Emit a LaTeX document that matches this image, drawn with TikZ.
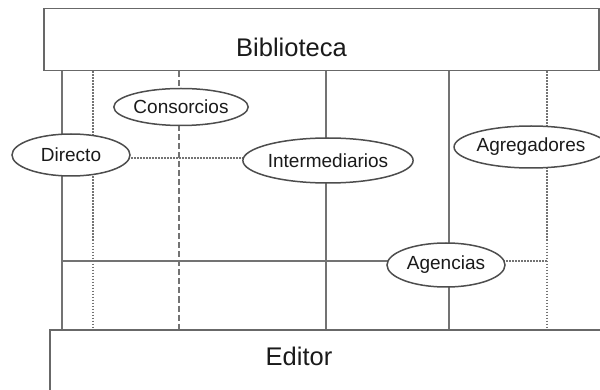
\documentclass[tikz,border=0pt]{standalone}
\usepackage{fontspec}
\setmainfont{Liberation Sans}
\usetikzlibrary{shapes.geometric,backgrounds}
\definecolor{linegray}{HTML}{737373}
\definecolor{edgegray}{HTML}{4d4d4d}
\definecolor{txt}{HTML}{1a1a1a}
\begin{document}
\begin{tikzpicture}[x=1pt,y=-1pt,
  bigbox/.style={draw=edgegray!85!white,line width=1.5pt,fill=white,inner sep=0pt,anchor=north west},
  bigtext/.style={text=txt,font=\fontsize{25.5}{30}\selectfont,inner sep=0pt},
  oval/.style={ellipse,draw=edgegray,line width=1.5pt,fill=white,inner sep=0pt,text=txt,font=\fontsize{19}{22}\selectfont},
  solidln/.style={draw=linegray,line width=1.5pt},
  dotln/.style={draw=linegray,line width=1.5pt,dash pattern=on 1.5pt off 1.5pt},
  dashln/.style={draw=linegray,line width=1.5pt,dash pattern=on 6pt off 3pt}]
\useasboundingbox (0,0) rectangle (600,390);
\clip (0,0) rectangle (600,390);
% boxes
\node[bigbox,minimum width=555pt,minimum height=62pt] (bib) at (43,8) {};
\node[bigtext] (bibt) at (291.5,47) {Biblioteca};
\node[bigbox,minimum width=560pt,minimum height=70pt] (edi) at (49,329) {};
\node[bigtext] (edit) at (299,356) {Editor};
% ellipses
\node[oval,minimum width=118pt,minimum height=42pt] (dir) at (71,155) {Directo};
\node[oval,minimum width=131pt,minimum height=37pt] (con) at (181,107) {Consorcios};
\node[oval,minimum width=151pt,minimum height=45pt] (int) at (328,160.5) {Intermediarios};
\node[oval,minimum width=139pt,minimum height=42pt] (agr) at (531,147) {Agregadores};
\node[oval,minimum width=118pt,minimum height=44pt] (age) at (446,265) {Agencias};
% guide coordinates
\coordinate (x1) at (62,0);
\coordinate (x2) at (93,0);
\coordinate (x3) at (179,0);
\coordinate (x4) at (326,0);
\coordinate (x5) at (449,0);
\coordinate (x6) at (547,0);
\coordinate (h1) at (0,261);
\coordinate (h2) at (0,158);
\begin{pgfonlayer}{background}
\path[solidln] (bib.south -| x1) -- (edi.north -| x1);
\path[dotln] (bib.south -| x2) -- (edi.north -| x2);
\path[dashln] (bib.south -| x3) -- (edi.north -| x3);
\path[solidln] (bib.south -| x4) -- (edi.north -| x4);
\path[solidln] (bib.south -| x5) -- (edi.north -| x5);
\path[dotln] (bib.south -| x6) -- (edi.north -| x6);
\path[solidln] (h1 -| x1) -- (h1 -| age);
\path[dotln] (h1 -| age) -- (h1 -| x6);
\path[dotln] (h2 -| dir) -- (h2 -| int);
\end{pgfonlayer}
\end{tikzpicture}
\end{document}
